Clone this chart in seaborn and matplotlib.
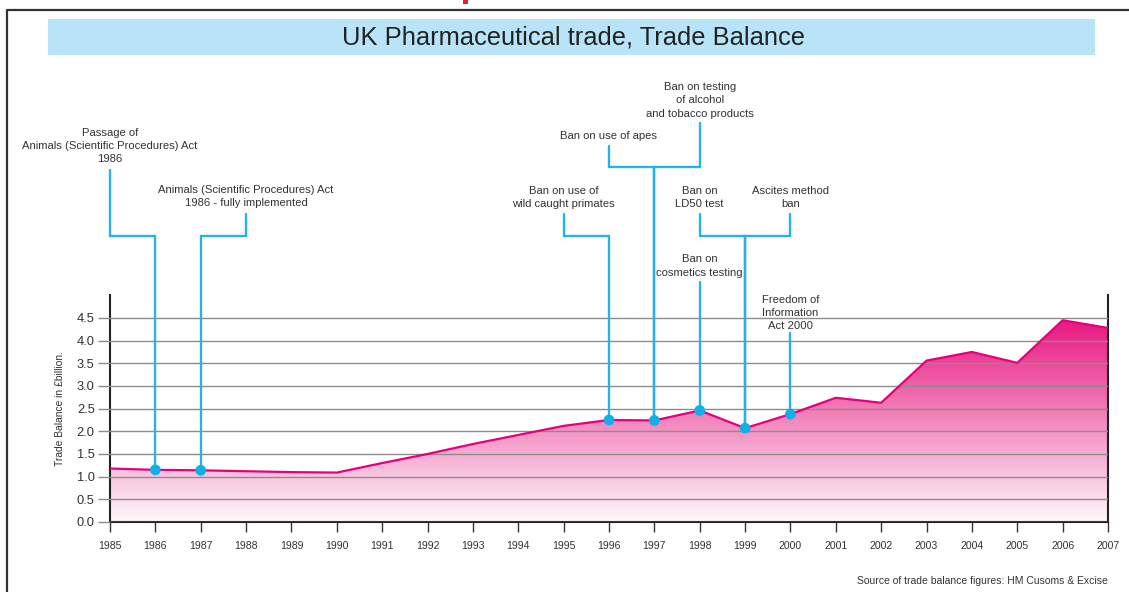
import numpy as np
import matplotlib
matplotlib.use("Agg")
import matplotlib.pyplot as plt
import seaborn as sns
from matplotlib.colors import LinearSegmentedColormap
from matplotlib.lines import Line2D
from matplotlib.patches import Rectangle, PathPatch

# ── Data ────────────────────────────────────────────────────────────────────

YEARS = list(range(1985, 2008))
BALANCE = [1.18, 1.15, 1.14, 1.12, 1.10, 1.09, 1.30, 1.50, 1.72, 1.92, 2.12,
           2.25, 2.24, 2.46, 2.07, 2.38, 2.74, 2.63, 3.56, 3.75, 3.51, 4.45, 4.28]

EVENT_YEARS = [1986, 1987, 1996, 1997, 1998, 1999, 2000]

LABELS = [
    "Passage of\nAnimals (Scientific Procedures) Act\n1986",
    "Animals (Scientific Procedures) Act\n1986 - fully implemented",
    "Ban on use of\nwild caught primates",
    "Ban on use of apes",
    "Ban on testing\nof alcohol\nand tobacco products",
    "Ban on\nLD50 test",
    "Ascites method\nban",
    "Ban on\ncosmetics testing",
    "Freedom of\nInformation\nAct 2000",
]
LABEL_YEAR_LINK = [1986, 1987, 1996, 1997, 1997, 1999, 1999, 1998, 2000]

# label layout (x in years, y in data units above the plot)
LABEL_X = [1985, 1988, 1995, 1996, 1998, 1998, 2000, 1998, 2000]
LABEL_Y = [8.29, 7.18, 7.16, 8.52, 9.30, 7.16, 7.16, 5.65, 4.61]
LEADER_TOP = [7.77, 6.79, 6.79, 8.29, 8.80, 6.79, 6.79, 5.29, 4.17]
ELBOW_Y = [6.30, 6.30, 6.31, 7.82, 7.82, 6.31, 6.31, None, None]

PINK = "#e5007e"
BLUE = "#29b2e6"
DOT = "#12aee9"

W, H = 1129, 592

# ── Figure ──────────────────────────────────────────────────────────────────

sns.set_style("white")
plt.rcParams["font.family"] = ["Liberation Sans", "DejaVu Sans"]

fig = plt.figure(figsize=(W / 100, H / 100), dpi=100)
ax = fig.add_axes([110 / W, 1 - 522 / H, 998 / W, (522 - 295.3) / H])

# gradient fill under the line
cmap = LinearSegmentedColormap.from_list("pk", ["#fef8fb", "#e8157f"])
grad = np.linspace(0, 1, 256).reshape(-1, 1)
im = ax.imshow(grad, extent=[YEARS[0], YEARS[-1], 0, 4.5], origin="lower",
               cmap=cmap, aspect="auto", zorder=1)
poly = ax.fill_between(YEARS, BALANCE, 0, facecolor="none", edgecolor="none")
clip = PathPatch(poly.get_paths()[0], transform=ax.transData,
                 facecolor="none", edgecolor="none")
ax.add_patch(clip)
im.set_clip_path(clip)

sns.lineplot(x=YEARS, y=BALANCE, color=PINK, linewidth=1.6, ax=ax, zorder=3)

# annotation leaders
bal = dict(zip(YEARS, BALANCE))
for lbl, lx, ly, top, elbow, target in zip(LABELS, LABEL_X, LABEL_Y,
                                           LEADER_TOP, ELBOW_Y, LABEL_YEAR_LINK):
    ax.text(lx, ly, lbl, ha="center", va="center", fontsize=8.1,
            color="#333333", linespacing=1.42, clip_on=False)
    if elbow is None:
        xs, ys = [lx, target], [top, bal[target]]
    else:
        xs = [lx, lx, target, target]
        ys = [top, elbow, elbow, bal[target]]
    ax.plot(xs, ys, color=BLUE, linewidth=1.7, clip_on=False, zorder=4,
            solid_joinstyle="miter")

sns.scatterplot(x=EVENT_YEARS, y=[bal[y] for y in EVENT_YEARS], color=DOT,
                s=60, edgecolor="none", ax=ax, zorder=5)

ax.set_xlim(YEARS[0], YEARS[-1])
ax.set_ylim(0, 5)
ax.set_xticks(YEARS)
ax.set_yticks(np.arange(0, 4.51, 0.5))
ax.set_yticklabels([f"{v:.1f}" for v in np.arange(0, 4.51, 0.5)])
ax.set_axisbelow(False)
ax.yaxis.grid(True, color="#8c8c8c", linewidth=1)
ax.xaxis.grid(False)
ax.tick_params(axis="y", length=9, width=1, color="#8c8c8c", labelsize=9.3,
               labelcolor="#333333", pad=2, left=True)
ax.tick_params(axis="x", length=7, width=1, color="#333333", labelsize=7.6,
               labelcolor="#333333", pad=7, bottom=True)
for side in ["left", "right", "bottom"]:
    ax.spines[side].set_color("#222222")
    ax.spines[side].set_linewidth(1.5)
ax.spines["top"].set_visible(False)
ax.set_xlabel("")
ax.set_ylabel("")

fig.text(60 / W, 1 - 409 / H, "Trade Balance in £billion.", rotation=90,
         ha="center", va="center", fontsize=7.4, color="#333333")

# title band
fig.add_artist(Rectangle((48 / W, 1 - 55 / H), (1095 - 48) / W, 36 / H,
                         transform=fig.transFigure, facecolor="#b9e4f7",
                         edgecolor="none"))
fig.text(573 / W, 1 - 37 / H, "UK Pharmaceutical trade, Trade Balance",
         ha="center", va="center", fontsize=18.4, color="#222222")

fig.text(1108 / W, 1 - 581 / H, "Source of trade balance figures: HM Cusoms & Excise",
         ha="right", va="center", fontsize=7.5, color="#333333")

# page frame
fig.add_artist(Line2D([7 / W, 7 / W, 1], [0, 1 - 10 / H, 1 - 10 / H],
                      transform=fig.transFigure, color="#333333", linewidth=1.6))
fig.add_artist(Rectangle((463 / W, 1 - 4 / H), 5 / W, 4 / H,
                         transform=fig.transFigure, facecolor="#e8202a",
                         edgecolor="none"))

fig.savefig("out.png", dpi=100)
